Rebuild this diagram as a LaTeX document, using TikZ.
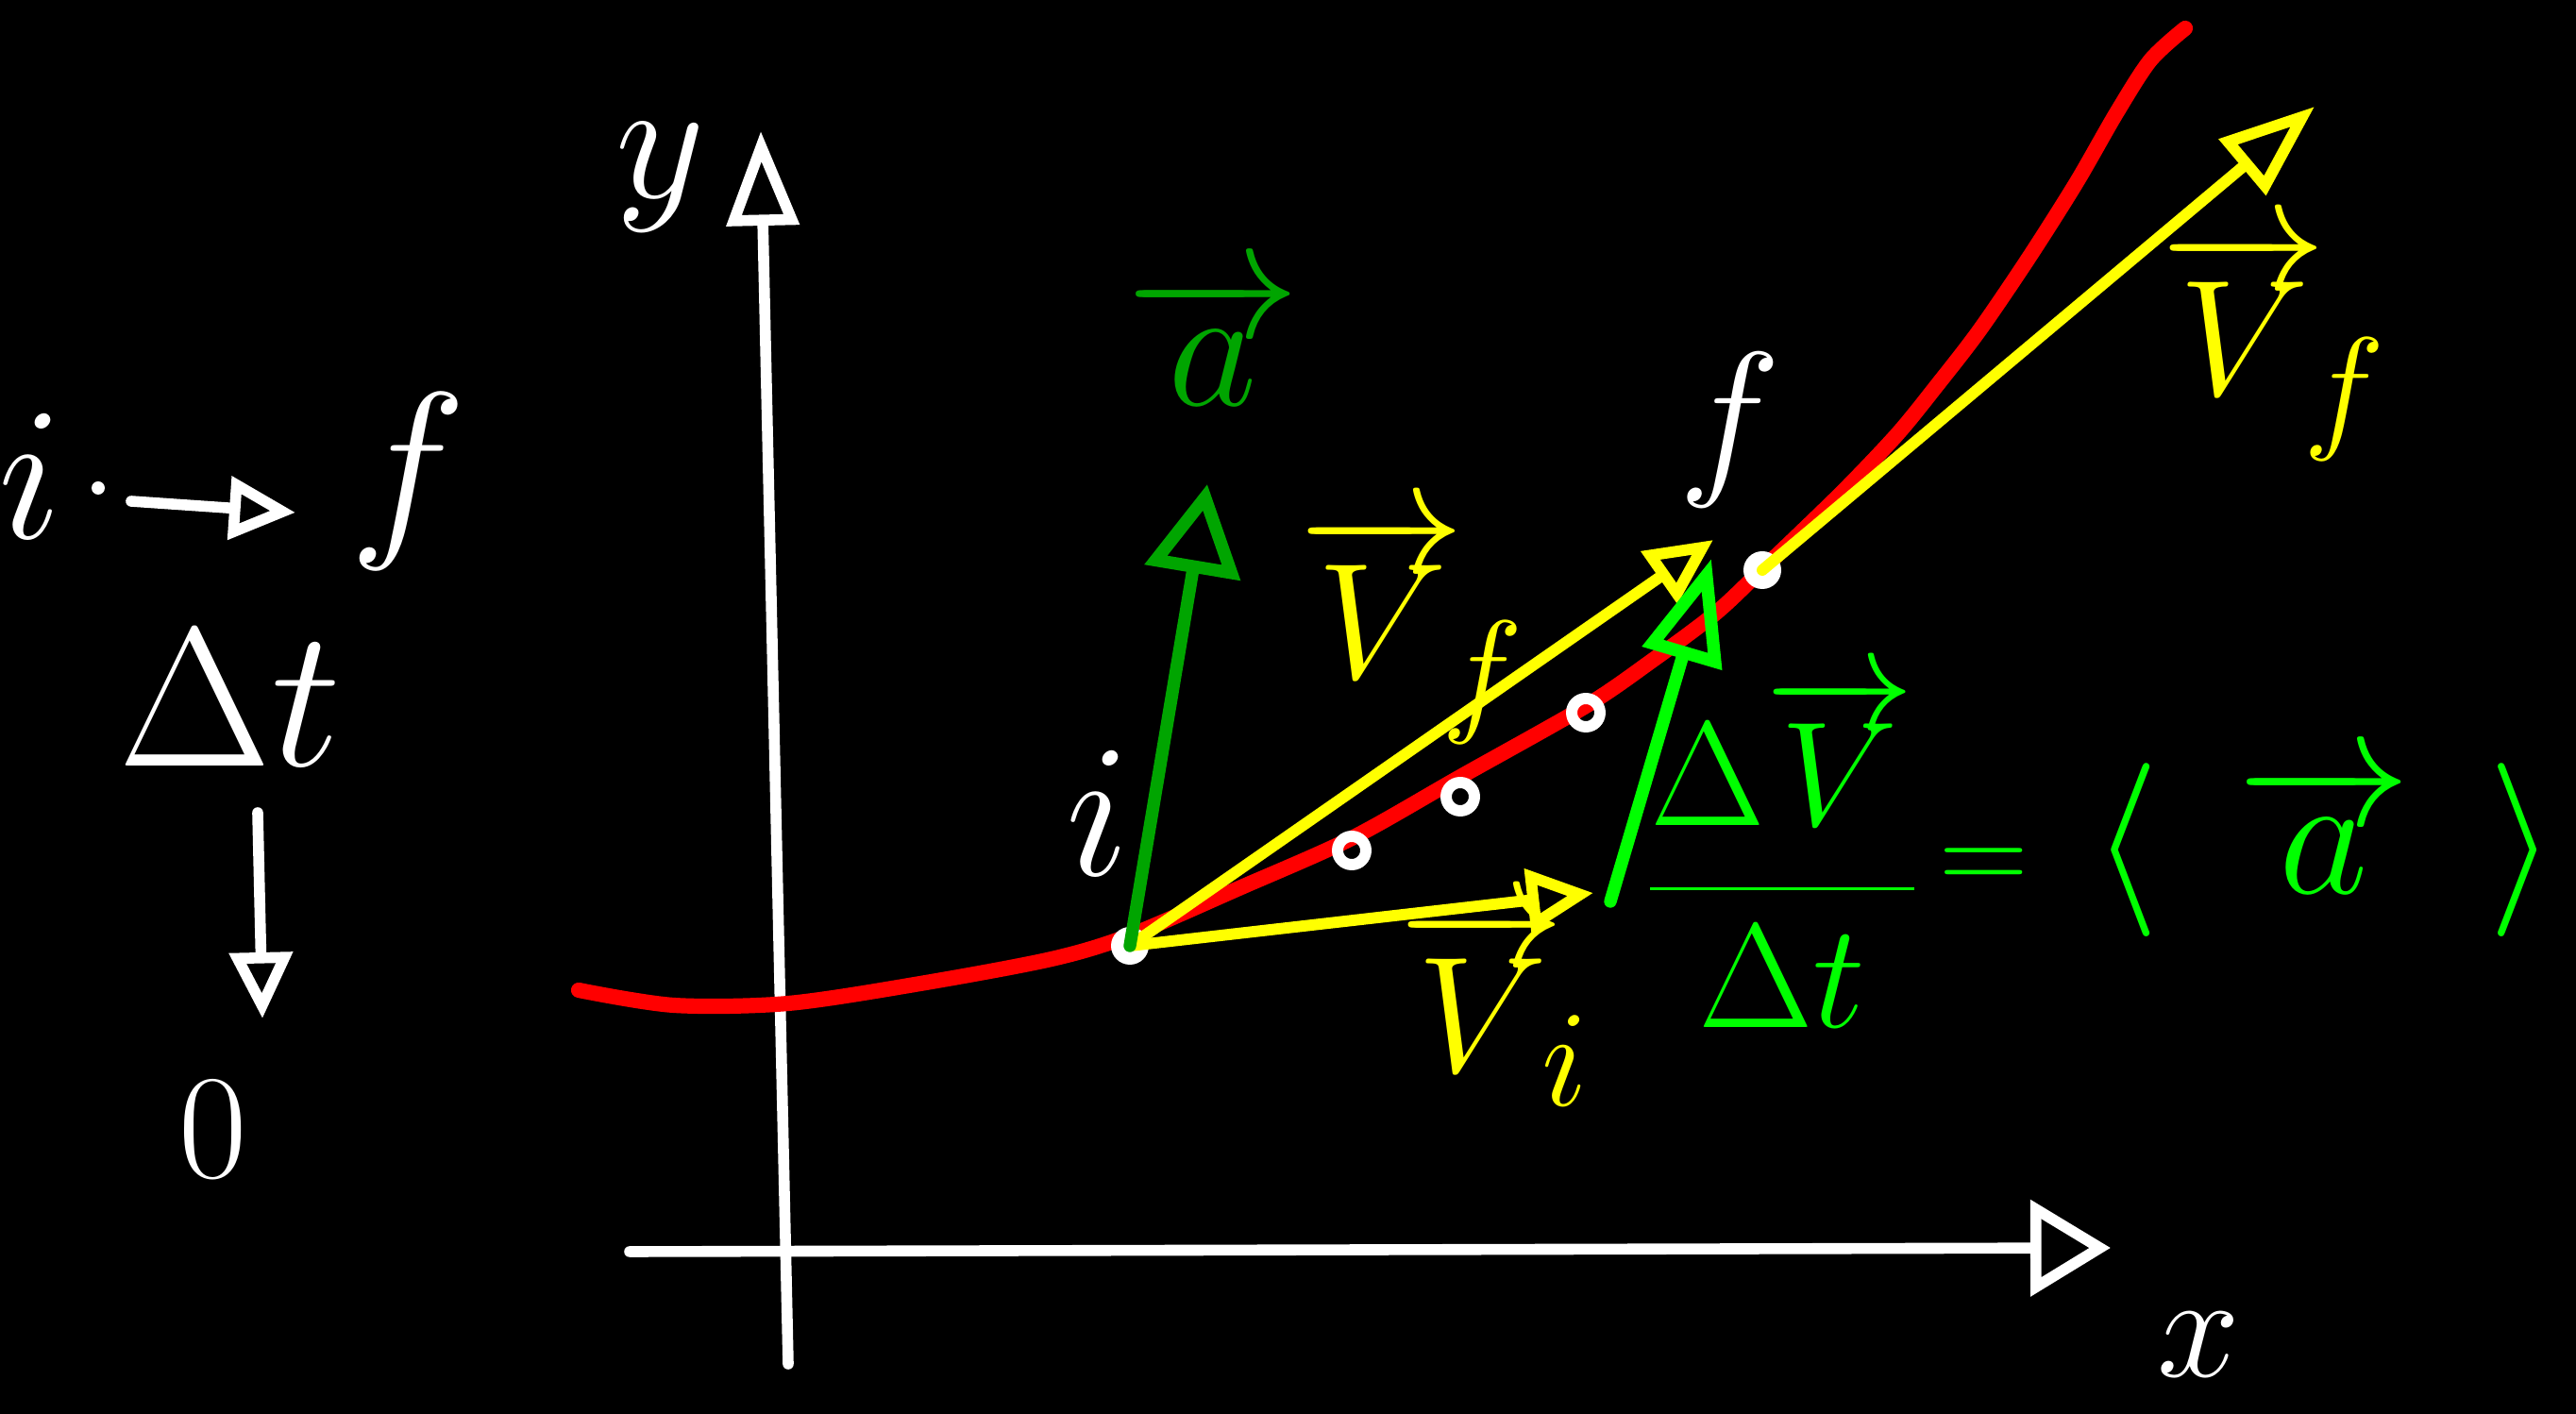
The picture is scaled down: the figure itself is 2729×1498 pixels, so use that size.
\documentclass[tikz,border=0pt]{standalone}
\usepackage{graphicx}
\usetikzlibrary{arrows.meta}
\definecolor{dgreen}{RGB}{0,165,0}
\definecolor{lgreen}{RGB}{0,255,0}
\definecolor{yel}{RGB}{255,255,0}
\definecolor{rd}{RGB}{255,0,0}
\newcommand{\hwtext}[2][2]{\scalebox{#1}{#2}}
\begin{document}
\begin{tikzpicture}[x=0.01cm,y=-0.01cm,line cap=round,line join=round,
  wline/.style={draw=white,line width=3.3pt},
  yline/.style={draw=yel,line width=3.4pt},
  gline/.style={draw=dgreen,line width=3.8pt},
  lgline/.style={draw=lgreen,line width=3.8pt},
  bighead/.style={-{Triangle[open,length=1.0cm,width=0.75cm]}},
  ahead/.style={-{Triangle[open,length=0.95cm,width=1.0cm]}},
  dvhead/.style={-{Triangle[open,length=1.1cm,width=0.85cm]}},
  xhead/.style={-{Triangle[open,length=0.85cm,width=1.0cm]}},
  midhead/.style={-{Triangle[open,length=0.7cm,width=0.65cm]}},
  lbl/.style={inner sep=0pt,font=\Huge},
  wlbl/.style={lbl,text=white},
  ylbl/.style={lbl,text=yel},
  glbl/.style={lbl,text=dgreen},
  lglbl/.style={lbl,text=lgreen}]
\fill[black] (0,0) rectangle (2729,1498);
\useasboundingbox (0,0) rectangle (2729,1498);

% key points
\coordinate (i) at (1197,1002);
\coordinate (f) at (1867,604);
\coordinate (vitip) at (1688,946);
\coordinate (vfptip) at (1815,572);
\coordinate (vftip) at (2452,113);
\coordinate (atip) at (1279,513);
\coordinate (dvstart) at (1706,955);
\coordinate (dvtip) at (1813,592);
\coordinate (yb) at (835,1445);
\coordinate (yt) at (806,139);
\coordinate (xl) at (667,1326);
\coordinate (xr) at (2236,1322);

% axes
\draw[wline,bighead] (yb) -- (yt);
\draw[wline,xhead] (xl) -- (xr);
\node[wlbl] (ylab) at (700,188) {\hwtext[2.1]{$y$}};
\node[wlbl] (xlab) at (2329,1425) {\hwtext[1.8]{$x$}};

% trajectory
\draw[rd,line width=4.6pt] plot[smooth,tension=0.5] coordinates {
 (613,1049) (714,1065) (835,1063) (975,1042) (1114,1016) (1197,991)
 (1315,940) (1432,888) (1547,823) (1680,748) (1750,700) (1817,650)
 (1867,603) (1950,523) (2010,460) (2053,407) (2097,350) (2150,272)
 (2200,193) (2242,120) (2278,64) (2315,30)};

% white points
\fill[white] (i) circle (20);
\fill[white] (f) circle (20);
\draw[white,line width=3.4pt] (1432,901) circle (15);
\draw[white,line width=3.4pt] (1547,844) circle (15);
\draw[white,line width=3.4pt] (1680,755) circle (15);
\node[wlbl] (ilab) at (1163,862) {\hwtext[2.3]{$i$}};
\node[wlbl] (flab) at (1833,456) {\hwtext[2.1]{$f$}};

% yellow velocity vectors
\draw[yline,midhead] (i) -- (vitip);
\draw[yline,midhead] (i) -- (vfptip);
\draw[yline,bighead] (f) -- (vftip);
\node[ylbl] (vfplab) at (1497,665) {\hwtext{$\overrightarrow{V}_{\!f}$}};
\node[ylbl] (vilab) at (1584,1065) {\hwtext{$\overrightarrow{V}_{\!i}$}};
\node[ylbl] (vflab) at (2410,365) {\hwtext{$\overrightarrow{V}_{\!f}$}};

% green vectors
\draw[gline,ahead] (i) -- (atip);
\node[glbl] (alab) at (1285,360) {\hwtext[2.1]{$\overrightarrow{a}$}};
\draw[lgline,dvhead] (dvstart) -- (dvtip);
\node[lglbl] (frac) at (1888,902) {\hwtext[1.8]{$\displaystyle\frac{\Delta\overrightarrow{V}}{\Delta t}$}};
\node[lglbl] (eq) at (2102,922) {\hwtext[1.5]{$=$}};
\node[lglbl] (avg) at (2462,900) {\hwtext[2.1]{$\left\langle\hspace{0.45em}\overrightarrow{a}\hspace{0.45em}\right\rangle$}};

% left notes
\node[wlbl] (li) at (32,505) {\hwtext[2.3]{$i$}};
\fill[white] (104,517) circle (7);
\coordinate (la1) at (139,531);
\coordinate (la2) at (313,543);
\draw[wline,midhead] (la1) -- (la2);
\node[wlbl] (lf) at (432,510) {\hwtext[2.4]{$f$}};
\node[wlbl] (ldt) at (244,740) {\hwtext[2.4]{$\Delta t$}};
\coordinate (lb1) at (273,861);
\coordinate (lb2) at (278,1079);
\draw[wline,midhead] (lb1) -- (lb2);
\node[wlbl] (lzero) at (226,1197) {\hwtext[1.8]{$0$}};
\end{tikzpicture}
\end{document}
